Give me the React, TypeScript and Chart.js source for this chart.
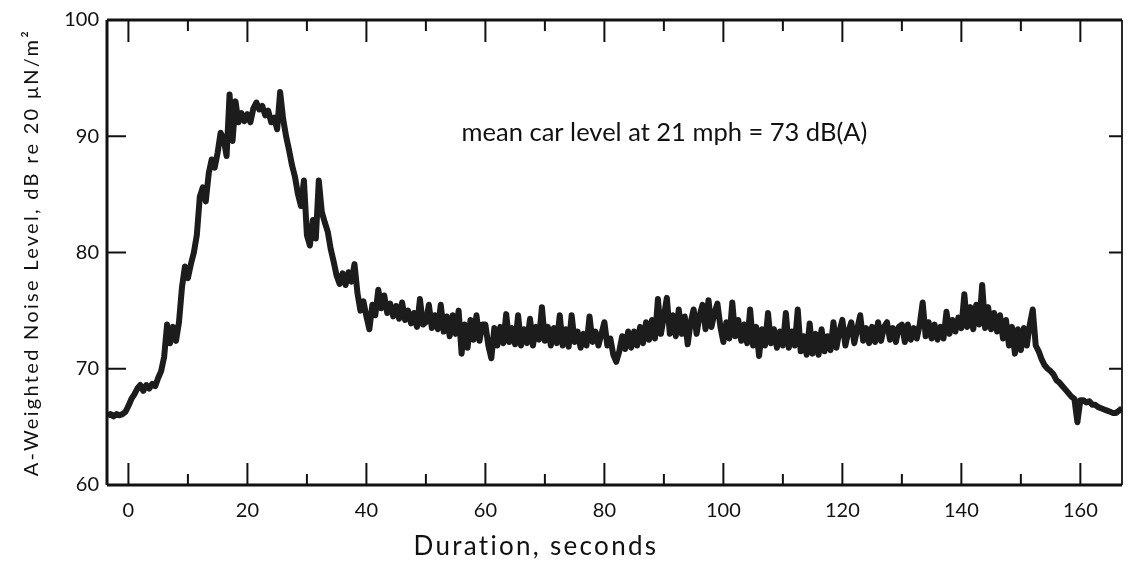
import React, { useEffect, useRef } from "react";
import { Chart, registerables } from "chart.js";

Chart.register(...registerables);

// ---- axis definitions ----
const xAxisMin = -3.6;
const xAxisMax = 167;
const yAxisMin = 60;
const yAxisMax = 100;
const xLabelTicks = [0, 20, 40, 60, 80, 100, 120, 140, 160];
const xMarkTicks = [0, 10, 20, 30, 40, 50, 60, 70, 80, 90, 100, 110, 120, 130, 140, 150, 160];
const yLabelTicks = [60, 70, 80, 90, 100];
const yMarkTicks = [70, 80, 90];

// ---- texts ----
const xTitle = "Duration, seconds";
const yTitle = "A-Weighted Noise Level, dB re 20 \u03bcN/m\u00b2";
const annotationText = "mean car level at 21 mph = 73 dB(A)";
const annotationAt = { x: 56, y: 89.6 };
const xTitleAt = 68.5;

// ---- recorded level trace, sampled every 0.5 s (dB(A)) ----
const sampleStep = 0.5;
const levelLeadIn = [66.0, 66.1, 65.9, 66.1, 66.0, 66.1, 66.3]; // from -3.5 s
const level0 = [66.8, 67.4, 67.8, 68.3, 68.6, 68.1, 68.6, 68.3, 68.7, 68.5, 69.2, 69.8, 71.0, 73.8, 72.2, 73.6, 72.4, 74.0, 77.0, 78.8];
const level10 = [77.8, 79.0, 80.0, 81.5, 84.8, 85.6, 84.4, 86.8, 88.0, 87.3, 88.6, 90.3, 89.8, 88.3, 93.6, 89.6, 93.0, 91.2, 92.0, 91.3];
const level20 = [91.9, 91.2, 92.4, 92.9, 92.3, 92.6, 91.8, 92.2, 91.2, 91.6, 90.6, 93.8, 91.5, 90.0, 88.8, 87.5, 86.5, 85.0, 84.0, 86.2];
const level30 = [81.5, 80.6, 82.8, 81.2, 86.2, 83.5, 82.6, 81.8, 80.3, 79.2, 78.0, 77.3, 78.2, 77.2, 78.3, 77.5, 79.0, 76.5, 75.0, 75.8];
const level40 = [74.5, 73.4, 75.5, 74.6, 76.8, 75.2, 76.3, 74.8, 75.6, 74.5, 75.4, 74.3, 75.7, 74.2, 75.0, 73.9, 74.8, 73.6, 76.0, 73.8];
const level50 = [74.0, 75.5, 73.5, 74.6, 73.4, 75.5, 73.2, 74.5, 72.8, 74.6, 73.0, 75.0, 71.3, 73.8, 71.8, 74.2, 72.5, 74.6, 72.4, 73.8];
const level60 = [73.8, 72.0, 70.9, 73.5, 72.0, 73.6, 72.2, 74.7, 72.3, 73.5, 72.1, 74.6, 72.0, 73.4, 72.2, 74.3, 72.0, 73.6, 72.5, 75.3];
const level70 = [72.4, 73.6, 72.0, 73.5, 72.2, 74.6, 72.0, 73.4, 71.9, 74.6, 72.3, 73.2, 71.8, 73.0, 72.0, 74.5, 72.3, 73.2, 72.0, 73.0];
const level80 = [74.0, 72.0, 72.6, 71.2, 70.6, 71.5, 72.8, 71.7, 73.2, 71.8, 73.2, 72.0, 73.6, 72.2, 74.0, 72.5, 74.2, 72.6, 76.0, 73.0];
const level90 = [74.5, 76.1, 73.0, 74.6, 72.8, 75.1, 73.0, 74.5, 72.1, 74.0, 75.1, 73.0, 74.6, 75.5, 73.4, 75.9, 73.6, 74.8, 75.6, 73.6];
const level100 = [72.3, 74.0, 72.6, 75.7, 72.8, 74.2, 72.4, 73.8, 72.2, 75.1, 72.0, 73.6, 71.1, 73.4, 72.0, 74.8, 72.2, 73.4, 71.8, 73.2];
const level110 = [72.0, 74.8, 71.8, 73.2, 72.0, 75.1, 71.5, 72.8, 71.2, 73.9, 71.3, 73.0, 71.2, 73.4, 71.5, 72.8, 71.6, 74.0, 71.8, 73.2];
const level120 = [74.2, 72.0, 73.2, 74.0, 72.2, 73.4, 74.6, 72.4, 73.5, 72.2, 73.6, 72.3, 74.0, 72.4, 73.6, 74.0, 72.5, 73.5, 72.3, 73.6];
const level130 = [73.8, 72.3, 73.8, 72.5, 73.5, 72.6, 73.8, 75.7, 72.8, 74.0, 72.6, 73.8, 72.5, 73.6, 72.6, 74.9, 73.0, 74.2, 73.2, 74.4];
const level140 = [73.5, 76.4, 73.6, 75.3, 73.4, 75.5, 73.8, 77.2, 73.5, 75.3, 73.4, 74.8, 73.2, 74.6, 72.6, 74.2, 72.0, 73.6, 71.3, 73.4];
const level150 = [71.6, 73.5, 72.0, 73.8, 75.1, 72.0, 71.5, 70.8, 70.3, 70.0, 69.8, 69.5, 69.0, 68.8, 68.5, 68.2, 67.9, 67.6, 67.4, 65.4];
const level160 = [67.3, 67.3, 67.1, 67.2, 66.9, 66.9, 66.7, 66.6, 66.5, 66.4, 66.3, 66.2, 66.2, 66.4, 66.6];

const levelBlocks: [number, number[]][] = [
  [-3.5, levelLeadIn],
  [0, level0],
  [10, level10],
  [20, level20],
  [30, level30],
  [40, level40],
  [50, level50],
  [60, level60],
  [70, level70],
  [80, level80],
  [90, level90],
  [100, level100],
  [110, level110],
  [120, level120],
  [130, level130],
  [140, level140],
  [150, level150],
  [160, level160],
];

const FONT = "Lato, 'DejaVu Sans', sans-serif";
const INK = "#111111";

function buildPoints() {
  const pts: { x: number; y: number }[] = [];
  for (const [start, vals] of levelBlocks) {
    vals.forEach((v, i) => pts.push({ x: start + i * sampleStep, y: v }));
  }
  return pts;
}

const decorPlugin = {
  id: "decor",
  afterDraw(chart: any) {
    const { ctx, chartArea: a, scales } = chart;
    const xs = scales.x;
    const ys = scales.y;
    ctx.save();
    ctx.strokeStyle = INK;
    ctx.lineCap = "butt";
    const line = (x1: number, y1: number, x2: number, y2: number) => {
      ctx.beginPath();
      ctx.moveTo(x1, y1);
      ctx.lineTo(x2, y2);
      ctx.stroke();
    };
    // frame
    ctx.lineWidth = 3;
    line(a.left, a.top, a.left, a.bottom);
    line(a.left, a.bottom, a.right, a.bottom);
    line(a.left, a.top, a.right, a.top);
    ctx.lineWidth = 1.8;
    line(a.right, a.top, a.right, a.bottom);
    // inward ticks
    ctx.lineWidth = 2;
    for (const t of xMarkTicks) {
      const px = xs.getPixelForValue(t);
      const len = t % 20 === 0 ? 22 : 11;
      line(px, a.bottom, px, a.bottom - len);
      line(px, a.top, px, a.top + len);
    }
    for (const v of yMarkTicks) {
      const py = ys.getPixelForValue(v);
      line(a.left, py, a.left + 19, py);
      line(a.right, py, a.right - 13, py);
    }
    // texts
    ctx.fillStyle = INK;
    ctx.textBaseline = "alphabetic";
    ctx.font = `26px ${FONT}`;
    (ctx as any).letterSpacing = "2.3px";
    ctx.textAlign = "center";
    ctx.fillText(xTitle, xs.getPixelForValue(xTitleAt), 555);
    ctx.font = `25.5px ${FONT}`;
    (ctx as any).letterSpacing = "0px";
    ctx.textAlign = "left";
    ctx.fillText(annotationText, xs.getPixelForValue(annotationAt.x), ys.getPixelForValue(annotationAt.y));
    // y title
    ctx.font = `20px ${FONT}`;
    (ctx as any).letterSpacing = "2.3px";
    ctx.textAlign = "center";
    ctx.translate(38, (a.top + a.bottom) / 2);
    ctx.rotate(-Math.PI / 2);
    ctx.fillText(yTitle, 0, 0);
    ctx.restore();
  },
};

export default function App() {
  const ref = useRef<HTMLCanvasElement | null>(null);
  useEffect(() => {
    if (!ref.current) return;
    const chart = new Chart(ref.current, {
      type: "line",
      data: {
        datasets: [
          {
            data: buildPoints(),
            borderColor: "#1c1c1c",
            borderWidth: 6,
            pointRadius: 0,
            tension: 0,
            fill: false,
            borderJoinStyle: "round",
          } as any,
        ],
      },
      options: {
        animation: false,
        responsive: false,
        devicePixelRatio: 1,
        layout: { padding: { top: 15, right: 5, left: 0, bottom: 0 } },
        plugins: { legend: { display: false }, tooltip: { enabled: false }, title: { display: false } },
        scales: {
          x: {
            type: "linear",
            min: xAxisMin,
            max: xAxisMax,
            grid: { display: false, drawTicks: false },
            border: { display: false },
            afterFit: (s: any) => {
              s.height = 81;
            },
            afterBuildTicks: (s: any) => {
              s.ticks = xLabelTicks.map((v) => ({ value: v }));
            },
            ticks: {
              color: INK,
              padding: 14,
              font: { family: FONT, size: 20 },
              maxRotation: 0,
              autoSkip: false,
            },
          },
          y: {
            type: "linear",
            min: yAxisMin,
            max: yAxisMax,
            grid: { display: false, drawTicks: false },
            border: { display: false },
            afterFit: (s: any) => {
              s.width = 107;
            },
            afterBuildTicks: (s: any) => {
              s.ticks = yLabelTicks.map((v) => ({ value: v }));
            },
            ticks: {
              color: INK,
              padding: 8,
              font: { family: FONT, size: 20 },
            },
          },
        },
      },
      plugins: [decorPlugin],
    });
    return () => chart.destroy();
  }, []);
  return (
    <div style={{ position: "fixed", left: 0, top: 0, width: 1127, height: 566, background: "#fff" }}>
      <canvas ref={ref} width={1127} height={566} style={{ display: "block", width: 1127, height: 566 }} />
    </div>
  );
}
